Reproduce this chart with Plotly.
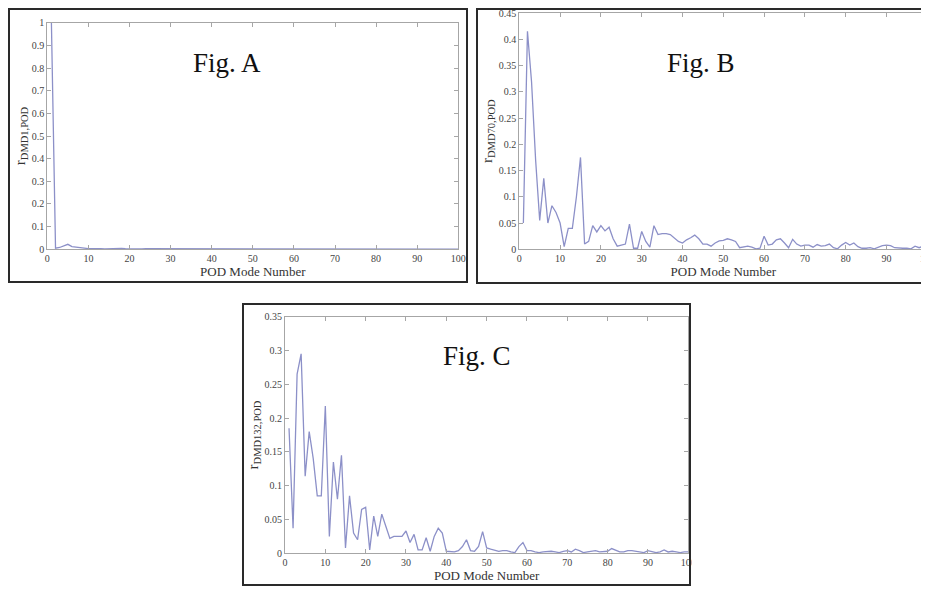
import plotly.graph_objects as go

# The page body has an 8px margin, so the figure is drawn 8px in from the
# window's top-left corner; the figure size is reduced to fit the window.
OFF = 8
WIN_W, WIN_H = 929, 589
W, H = WIN_W - OFF, WIN_H - OFF

modes = list(range(1, 101))

r_dmd1 = [1.0, 0.005, 0.008, 0.015, 0.022, 0.012, 0.009, 0.008, 0.005, 0.003,
          0.003, 0.004, 0.003, 0.002, 0.003, 0.002, 0.003, 0.004, 0.003, 0.002,
          0.004, 0.003, 0.002, 0.003, 0.003, 0.002, 0.002, 0.003, 0.002, 0.002,
          0.002, 0.001, 0.001, 0.002, 0.001, 0.001, 0.001, 0.001, 0.001, 0.001,
          0.001, 0.001, 0.001, 0.001, 0.001, 0.001, 0.001, 0.001, 0.001, 0.001,
          0.001, 0.001, 0.001, 0.001, 0.001, 0.001, 0.001, 0.001, 0.001, 0.001,
          0.001, 0.001, 0.001, 0.001, 0.001, 0.001, 0.001, 0.001, 0.001, 0.001,
          0.001, 0.001, 0.001, 0.001, 0.001, 0.001, 0.001, 0.001, 0.001, 0.001,
          0.001, 0.001, 0.001, 0.001, 0.001, 0.001, 0.001, 0.001, 0.001, 0.001,
          0.001, 0.001, 0.001, 0.001, 0.001, 0.001, 0.001, 0.001, 0.001, 0.001]

r_dmd70 = [0.05, 0.415, 0.319, 0.17, 0.055, 0.135, 0.05, 0.083, 0.07, 0.05,
           0.005, 0.04, 0.04, 0.1, 0.175, 0.01, 0.015, 0.045, 0.033, 0.045,
           0.035, 0.042, 0.02, 0.006, 0.008, 0.01, 0.048, 0.002, 0.002, 0.034,
           0.015, 0.004, 0.045, 0.028, 0.03, 0.03, 0.028, 0.022, 0.015, 0.012,
           0.018, 0.022, 0.027, 0.02, 0.01, 0.01, 0.006, 0.012, 0.016, 0.017,
           0.02, 0.018, 0.015, 0.003, 0.004, 0.006, 0.004, 0.001, 0.002, 0.025,
           0.008, 0.01, 0.018, 0.02, 0.012, 0.003, 0.019, 0.01, 0.006, 0.008,
           0.008, 0.004, 0.009, 0.006, 0.007, 0.01, 0.003, 0.001, 0.008, 0.013,
           0.008, 0.012, 0.005, 0.002, 0.002, 0.003, 0.001, 0.004, 0.007, 0.008,
           0.007, 0.003, 0.002, 0.002, 0.002, 0.001, 0.006, 0.003, 0.006, 0.004]

r_dmd132 = [0.185, 0.037, 0.265, 0.295, 0.114, 0.18, 0.14, 0.085, 0.085, 0.218,
            0.025, 0.135, 0.08, 0.145, 0.008, 0.085, 0.03, 0.02, 0.065, 0.068,
            0.005, 0.055, 0.025, 0.058, 0.04, 0.022, 0.025, 0.025, 0.025, 0.033,
            0.016, 0.028, 0.005, 0.005, 0.023, 0.003, 0.025, 0.037, 0.03, 0.003,
            0.002, 0.002, 0.004, 0.01, 0.02, 0.004, 0.003, 0.01, 0.032, 0.008,
            0.006, 0.005, 0.003, 0.004, 0.004, 0.002, 0.001, 0.01, 0.016, 0.004,
            0.004, 0.002, 0.001, 0.002, 0.003, 0.003, 0.002, 0.001, 0.003, 0.004,
            0.002, 0.006, 0.004, 0.001, 0.002, 0.003, 0.004, 0.002, 0.002, 0.003,
            0.007, 0.005, 0.002, 0.002, 0.004, 0.004, 0.003, 0.002, 0.001, 0.004,
            0.002, 0.001, 0.002, 0.005, 0.002, 0.003, 0.002, 0.001, 0.002, 0.002]

x_ticks = [0, 10, 20, 30, 40, 50, 60, 70, 80, 90, 100]
y_ticks_a = [0, 0.1, 0.2, 0.3, 0.4, 0.5, 0.6, 0.7, 0.8, 0.9, 1]
y_ticks_b = [0, 0.05, 0.1, 0.15, 0.2, 0.25, 0.3, 0.35, 0.4, 0.45]
y_ticks_c = [0, 0.05, 0.1, 0.15, 0.2, 0.25, 0.3, 0.35]

panel_labels = ["Fig. A", "Fig. B", "Fig. C"]
y_titles = ["r<sub>DMD1,POD</sub>", "r<sub>DMD70,POD</sub>", "r<sub>DMD132,POD</sub>"]
x_title = "POD Mode Number"

LINE = "#8c90c8"
AX = "#a6a6a6"
SERIF = "Liberation Serif"

def px_x(p):
    return (p - OFF) / W

def px_y(p):
    return 1 - (p - OFF) / H

# plot areas in window pixels: (left, right, top, bottom)
areas = [(47.3, 458.3, 22.7, 249.3),
         (519.3, 927.3, 13.0, 249.3),
         (285.0, 688.3, 316.7, 553.3)]
yranges = [[0, 1], [0, 0.45], [0, 0.35]]
yticks = [y_ticks_a, y_ticks_b, y_ticks_c]
series = [r_dmd1, r_dmd70, r_dmd132]

fig = go.Figure()
layout = dict(width=W, height=H, margin=dict(l=0, r=0, t=0, b=0),
              paper_bgcolor="white", plot_bgcolor="white", showlegend=False)

for i in range(3):
    sfx = "" if i == 0 else str(i + 1)
    l, r, t, b = areas[i]
    fig.add_trace(go.Scatter(x=modes, y=series[i], mode="lines",
                             line=dict(color=LINE, width=1.3),
                             xaxis="x" + sfx, yaxis="y" + sfx,
                             hoverinfo="skip", cliponaxis=False))
    layout["xaxis" + sfx] = dict(
        domain=[px_x(l), min(1.0, px_x(r))], anchor="y" + sfx, range=[0, 100],
        tickvals=x_ticks, ticktext=[str(v) for v in x_ticks],
        ticks="inside", ticklen=4, tickcolor=AX, showline=True, linecolor=AX,
        linewidth=1.2, mirror="ticks", showgrid=False, zeroline=False,
        ticklabeloverflow="allow",
        tickfont=dict(family=SERIF, size=10, color="#444"),
        title=dict(text=x_title, font=dict(family=SERIF, size=13, color="#333"),
                   standoff=0),
        automargin=False, fixedrange=True)
    layout["yaxis" + sfx] = dict(
        domain=[px_y(b), px_y(t)], anchor="x" + sfx, range=yranges[i],
        tickvals=yticks[i], ticktext=[("%g" % v) for v in yticks[i]],
        ticks="inside", ticklen=4, tickcolor=AX, showline=True, linecolor=AX,
        linewidth=1.2, mirror="ticks", showgrid=False, zeroline=False,
        ticklabeloverflow="allow",
        tickfont=dict(family=SERIF, size=10, color="#444"),
        title=dict(text=y_titles[i], font=dict(family=SERIF, size=15, color="#333"),
                   standoff=2),
        automargin=False, fixedrange=True)

annotations = []
centers = [(227, 63), (701, 63), (477, 356)]
for i in range(3):
    cx, cy = centers[i]
    annotations.append(dict(x=px_x(cx), y=px_y(cy), xref="paper", yref="paper",
                            text=panel_labels[i], showarrow=False,
                            xanchor="center", yanchor="middle",
                            font=dict(family=SERIF, size=27, color="#111")))
layout["annotations"] = annotations

frames = [(9, 9, 467, 282), (477, 9, 935, 283), (243, 304, 690, 585)]
shapes = [dict(type="rect", xref="paper", yref="paper", layer="above",
               x0=px_x(691.5), x1=1.0, y0=0, y1=px_y(300),
               fillcolor="white", line=dict(width=0))]
for (x0, y0, x1, y1) in frames:
    shapes.append(dict(type="rect", xref="paper", yref="paper", layer="above",
                       x0=px_x(x0), x1=px_x(x1), y0=px_y(y1), y1=px_y(y0),
                       line=dict(color="#2a2a2a", width=2)))
layout["shapes"] = shapes

fig.update_layout(**layout)
fig.write_html("out.html")
